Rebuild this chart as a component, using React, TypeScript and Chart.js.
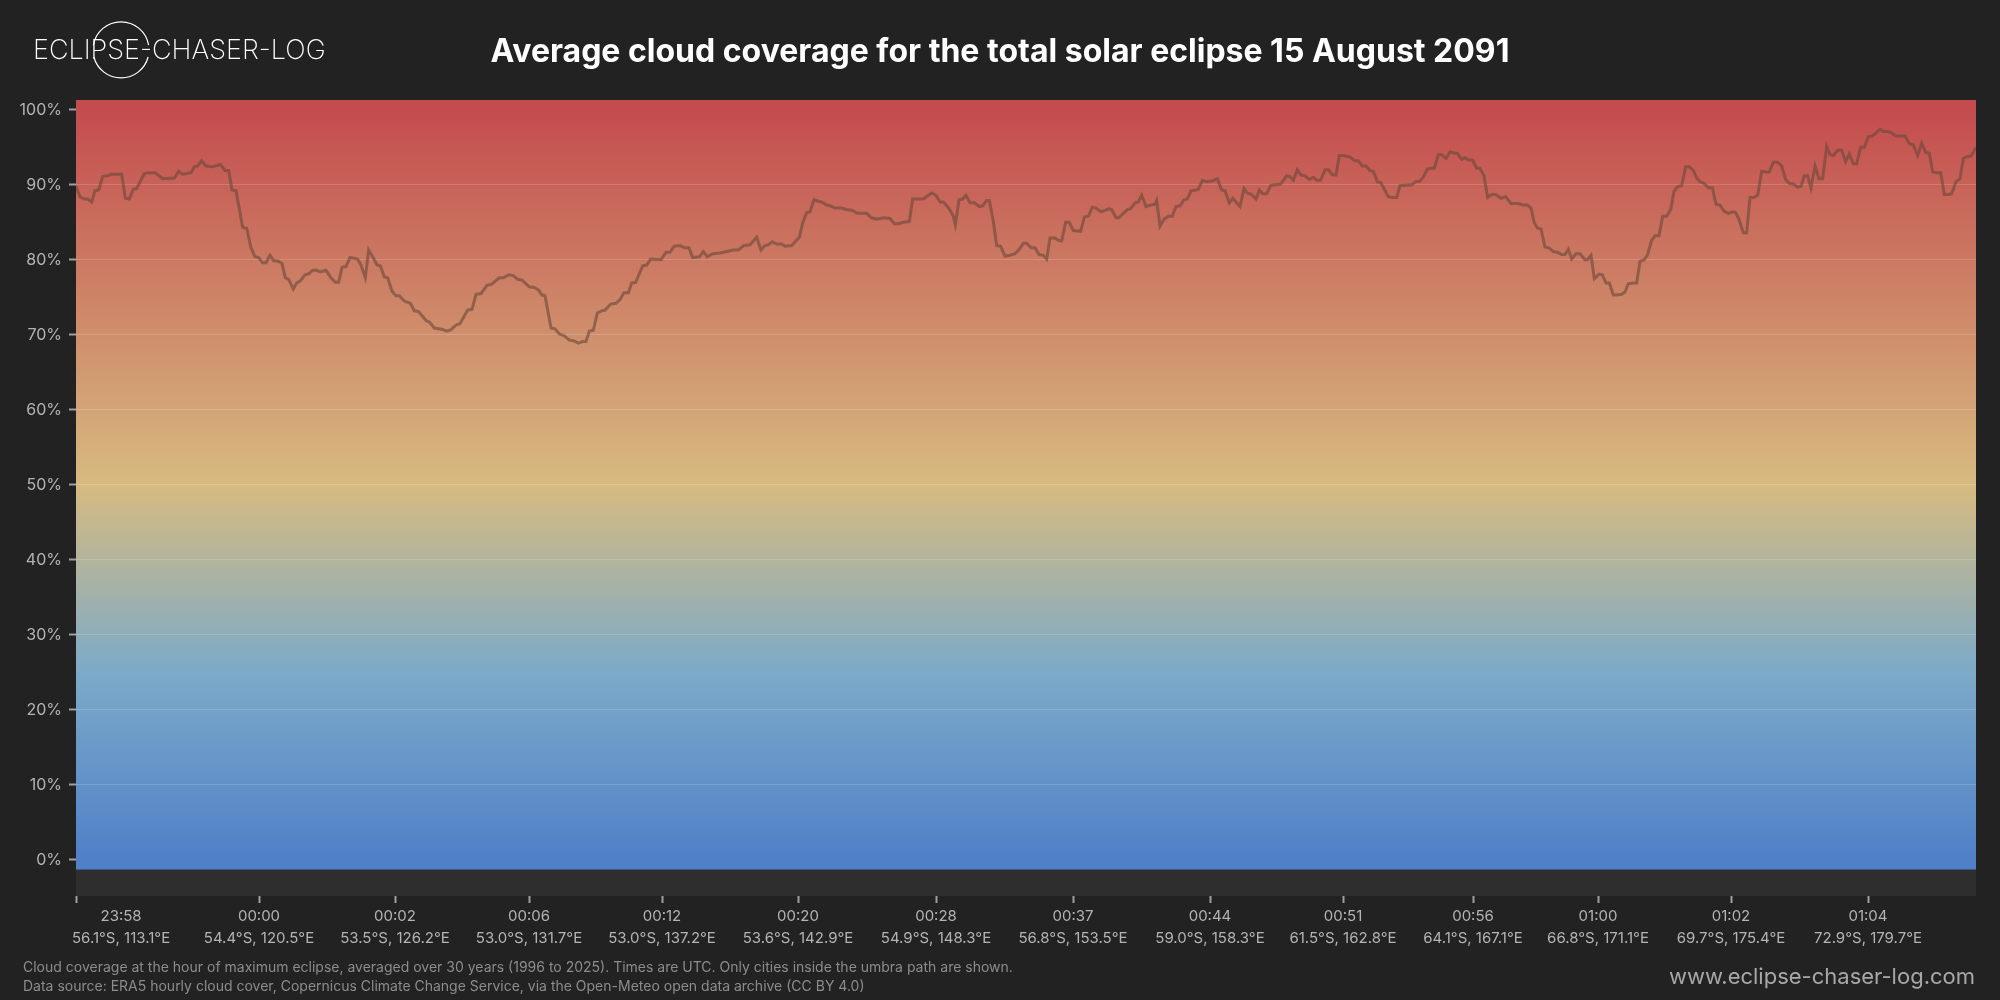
import React, { useEffect, useRef } from "react";
import { Chart, registerables } from "chart.js";

Chart.register(...registerables);

// Tick labels along the eclipse path (position in km along the path)
const tickKm = [0, 549, 957, 1359, 1758, 2166, 2580, 2991, 3402, 3801, 4191, 4566, 4965, 5376];
const tickTimes = ["23:58", "00:00", "00:02", "00:06", "00:12", "00:20", "00:28", "00:37", "00:44", "00:51", "00:56", "01:00", "01:02", "01:04"];
const tickPlaces = [
  "56.1°S, 113.1°E", "54.4°S, 120.5°E", "53.5°S, 126.2°E", "53.0°S, 131.7°E", "53.0°S, 137.2°E",
  "53.6°S, 142.9°E", "54.9°S, 148.3°E", "56.8°S, 153.5°E", "59.0°S, 158.3°E", "61.5°S, 162.8°E",
  "64.1°S, 167.1°E", "66.8°S, 171.1°E", "69.7°S, 175.4°E", "72.9°S, 179.7°E",
];
const yTicks = [0, 10, 20, 30, 40, 50, 60, 70, 80, 90, 100];

// Distance along the umbra path (km)
const pathKm = [
  0, 12, 25, 35, 47, 57, 68, 80, 95, 105,
  137, 148, 160, 172, 182, 205, 220, 237, 260, 295,
  308, 320, 345, 355, 365, 377, 390, 410, 433, 447,
  458, 468, 480, 500, 512, 525, 537, 548, 560, 570,
  582, 593, 607, 618, 628, 638, 652, 662, 673, 687,
  697, 710, 722, 733, 750, 765, 778, 788, 798, 810,
  822, 845, 855, 868, 878, 890, 903, 913, 925, 935,
  948, 960, 970, 985, 1003, 1015, 1028, 1050, 1060, 1075,
  1088, 1100, 1113, 1125, 1140, 1152, 1175, 1188, 1200, 1215,
  1233, 1245, 1270, 1283, 1298, 1312, 1325, 1338, 1360, 1375,
  1387, 1398, 1407, 1425, 1437, 1450,
  1464, 1480, 1494, 1507, 1520, 1530, 1540, 1552, 1564, 1577,
  1587, 1604, 1620, 1632, 1644, 1657, 1667, 1679, 1700, 1712,
  1724, 1755, 1770, 1782, 1794, 1812, 1827, 1839, 1850, 1870,
  1882, 1894, 1910, 1932, 1952, 1972, 1987, 2004, 2022, 2042,
  2055, 2067, 2077, 2089, 2102, 2117, 2127, 2147, 2170, 2180,
  2192, 2202, 2214, 2227, 2237, 2252, 2262, 2277, 2297, 2310,
  2327, 2344, 2372, 2387, 2402, 2422, 2442, 2455, 2467, 2482,
  2500, 2510, 2527, 2542, 2554, 2567, 2580, 2592, 2602, 2614,
  2624, 2632, 2638, 2649, 2660, 2670, 2682, 2695, 2710, 2720,
  2732, 2740, 2752, 2762, 2774, 2787, 2802, 2817, 2830, 2842,
  2852, 2865, 2877, 2889, 2902, 2912,
  2922, 2937, 2947, 2957, 2969, 2980, 2992, 3014, 3025, 3037,
  3049, 3060, 3075, 3087, 3097, 3107, 3120, 3129, 3142, 3154,
  3164, 3177, 3187, 3197, 3210, 3224, 3237, 3242, 3252, 3264,
  3277, 3289, 3300, 3312, 3324, 3334, 3345, 3359, 3367, 3379,
  3392, 3407, 3424, 3437, 3447, 3460, 3470, 3482, 3492, 3504,
  3514, 3527, 3540, 3550, 3560, 3572, 3584, 3597, 3614, 3632,
  3642, 3652, 3664, 3675, 3687, 3700, 3712, 3722, 3734, 3747,
  3757, 3770, 3780, 3790, 3804, 3822, 3837, 3847, 3859, 3870,
  3882, 3892, 3904, 3914, 3937, 3949, 3962, 3972, 3984, 4007,
  4019, 4032, 4042, 4054, 4064, 4075, 4087, 4097, 4110, 4122,
  4137, 4144, 4157, 4167, 4179, 4190, 4202, 4212, 4224, 4235,
  4247, 4260, 4274, 4289,
  4305, 4327, 4340, 4354, 4365, 4375, 4385, 4395, 4407, 4419,
  4432, 4444, 4457, 4467, 4477, 4487, 4500, 4512, 4527, 4534,
  4545, 4555, 4569, 4579, 4590, 4600, 4612, 4622, 4637, 4647,
  4657, 4672, 4682, 4692, 4704, 4714, 4727, 4737, 4749, 4760,
  4772, 4784, 4794, 4804, 4817, 4829, 4840, 4852, 4862, 4872,
  4884, 4897, 4909, 4920, 4932, 4944, 4957, 4969, 4979, 4989,
  5002, 5012, 5022, 5034, 5045, 5057, 5070, 5080, 5092, 5105,
  5117, 5129, 5140, 5152, 5165, 5175, 5185, 5195, 5205, 5217,
  5229, 5240, 5252, 5262, 5272, 5285, 5297, 5309, 5320, 5332,
  5342, 5354, 5365, 5377, 5389, 5402, 5412, 5422, 5437, 5447,
  5459, 5487, 5500, 5512, 5525, 5537, 5549, 5560, 5570, 5582,
  5594, 5605, 5617, 5627, 5640, 5652, 5662, 5675, 5685, 5700,
];

// Average cloud cover (%) at each position
const cloudCover = [
  89.8, 88.4, 88.1, 88.1, 87.7, 89.2, 89.3, 91.1, 91.2, 91.4,
  91.4, 88.2, 88.1, 89.4, 89.5, 91.5, 91.6, 91.6, 90.8, 90.9,
  91.8, 91.4, 91.6, 92.4, 92.5, 93.2, 92.5, 92.4, 92.7, 91.9,
  91.9, 89.3, 89.2, 84.3, 84.2, 81.6, 80.4, 80.3, 79.6, 79.6,
  80.6, 79.9, 79.8, 79.5, 77.6, 77.4, 76.1, 76.9, 77.2, 78.0,
  78.1, 78.6, 78.6, 78.4, 78.6, 77.6, 77.0, 77.0, 79.0, 79.1,
  80.3, 80.1, 79.3, 77.6, 81.3, 80.4, 79.3, 79.2, 77.7, 77.6,
  75.8, 75.2, 75.2, 74.5, 74.2, 73.2, 73.1, 71.9, 71.7, 70.9,
  70.8, 70.7, 70.5, 70.7, 71.3, 71.5, 73.3, 73.4, 75.4, 75.5,
  76.6, 76.7, 77.6, 77.6, 78.0, 77.9, 77.4, 77.3, 76.4, 76.3,
  76.0, 75.3, 75.2, 70.9, 70.8, 70.1,
  69.9, 69.3, 69.2, 68.9, 69.1, 69.1, 70.5, 70.6, 72.9, 73.2,
  73.3, 74.1, 74.2, 74.7, 75.6, 75.6, 76.9, 77.0, 79.2, 79.3,
  80.1, 80.0, 81.0, 81.0, 81.8, 81.9, 81.6, 81.6, 80.3, 80.4,
  81.1, 80.4, 80.8, 80.9, 81.1, 81.3, 81.3, 81.9, 82.0, 83.0,
  81.3, 81.9, 82.0, 82.4, 82.1, 82.1, 81.8, 81.9, 83.0, 84.9,
  86.3, 86.4, 88.0, 87.8, 87.7, 87.3, 87.2, 86.9, 86.9, 86.7,
  86.6, 86.2, 86.2, 85.6, 85.4, 85.6, 85.5, 84.8, 84.8, 85.0,
  85.1, 88.1, 88.1, 88.1, 88.5, 88.9, 88.6, 87.7, 87.7, 87.1,
  86.5, 85.8, 84.7, 88.0, 88.1, 88.6, 87.6, 87.6, 87.1, 87.2,
  87.9, 87.9, 85.1, 81.9, 81.8, 80.5, 80.6, 80.8, 81.4, 82.2,
  82.2, 81.6, 81.6, 80.7, 80.6, 80.1,
  82.9, 82.9, 82.6, 82.5, 85.0, 85.0, 83.9, 83.8, 85.7, 85.8,
  87.0, 86.9, 86.4, 86.6, 86.8, 86.7, 85.6, 85.6, 86.2, 86.7,
  86.8, 87.6, 87.7, 88.6, 87.1, 87.3, 87.4, 87.9, 84.5, 85.4,
  85.8, 85.8, 87.1, 87.2, 88.0, 88.1, 89.2, 89.3, 89.4, 90.6,
  90.4, 90.5, 90.8, 89.3, 89.2, 87.6, 88.2, 87.6, 87.1, 89.5,
  88.9, 88.7, 88.1, 89.3, 88.8, 88.8, 89.9, 90.0, 90.1, 91.2,
  91.1, 90.6, 92.0, 91.3, 91.2, 90.7, 91.0, 90.6, 90.6, 92.0,
  92.0, 91.3, 91.3, 93.9, 93.9, 93.7, 93.2, 93.2, 92.5, 92.5,
  91.9, 91.8, 90.4, 90.3, 88.4, 88.3, 88.3, 89.9, 89.9, 90.0,
  90.4, 90.5, 91.0, 92.1, 92.2, 92.2, 94.0, 94.0, 93.5, 94.4,
  94.2, 94.2, 93.4, 93.6, 93.3, 93.3, 92.2, 92.2, 91.2, 88.3,
  88.7, 88.7, 88.2, 88.4,
  87.5, 87.5, 87.3, 87.3, 86.9, 84.9, 84.2, 84.1, 81.7, 81.6,
  81.1, 81.0, 80.7, 80.7, 81.4, 80.1, 80.8, 80.8, 80.0, 80.0,
  80.6, 77.5, 78.1, 78.0, 76.9, 76.9, 75.3, 75.3, 75.4, 75.7,
  76.8, 76.9, 76.9, 79.8, 80.0, 80.6, 82.6, 83.2, 83.2, 85.8,
  85.8, 86.7, 89.1, 89.7, 89.9, 92.4, 92.4, 91.9, 90.9, 90.4,
  90.2, 89.6, 89.6, 87.4, 87.3, 86.5, 86.2, 86.4, 86.3, 85.4,
  83.6, 83.6, 88.3, 88.3, 88.6, 91.8, 91.7, 91.7, 93.0, 93.0,
  92.5, 90.7, 90.2, 90.1, 89.7, 89.8, 91.2, 91.2, 89.6, 92.5,
  90.8, 90.8, 95.1, 94.0, 93.9, 94.6, 94.6, 93.1, 94.1, 92.8,
  92.8, 95.0, 95.0, 96.4, 96.5, 97.0, 97.4, 97.1, 97.1, 96.9,
  96.5, 96.5, 95.5, 95.3, 93.9, 95.5, 94.3, 94.2, 91.7, 91.6,
  91.6, 88.7, 88.7, 88.8, 90.4, 90.8, 93.5, 93.8, 93.8, 95.0,
];

const Y_MIN = -4.8;
const Y_MAX = 101.3;
const BAND_TOP = -1.3;
const X_MAX = 5700;
const X_FONT = { family: "Inter", size: 15, lineHeight: 1.45 };

const backgroundPlugin = {
  id: "cloudBackground",
  beforeDraw(chart: any) {
    const { ctx, chartArea: a, scales } = chart;
    const y = scales.y;
    const p100 = y.getPixelForValue(100);
    const p0 = y.getPixelForValue(0);
    const band = y.getPixelForValue(BAND_TOP);
    const g = ctx.createLinearGradient(0, p100, 0, p0);
    g.addColorStop(0, "#c44c4e");
    g.addColorStop(0.5, "#d7bb80");
    g.addColorStop(0.75, "#7caac8");
    g.addColorStop(1, "#5080c8");
    ctx.save();
    ctx.fillStyle = g;
    ctx.fillRect(a.left, a.top, a.right - a.left, band - a.top);
    ctx.fillStyle = "#2e2e2e";
    ctx.fillRect(a.left, band, a.right - a.left, a.bottom - band);

    // keep the first x label inside the chart: start its block near its tick
    const xs = scales.x;
    const items = xs.getLabelItems(a);
    if (items && items.length) {
      const first = items[0];
      ctx.font = `${X_FONT.size}px ${X_FONT.family}`;
      const lines: string[] = Array.isArray(first.label) ? first.label : [String(first.label)];
      const w = Math.max(...lines.map((l) => ctx.measureText(l).width));
      const tickPx = xs.getPixelForValue(tickKm[0]);
      first.options.translation[0] = tickPx - 4 + w / 2;
    }
    ctx.restore();
  },
};

export default function App() {
  const ref = useRef<HTMLCanvasElement>(null);

  useEffect(() => {
    if (!ref.current) return;
    const points = pathKm.map((x, i) => ({ x, y: cloudCover[i] }));
    const chart = new Chart(ref.current, {
      type: "line",
      data: {
        datasets: [
          {
            data: points,
            borderColor: "rgba(108, 72, 58, 0.62)",
            borderWidth: 3,
            pointRadius: 0,
            tension: 0,
            fill: false,
          },
        ],
      },
      options: {
        animation: false,
        responsive: false,
        devicePixelRatio: 1,
        layout: { padding: { top: 100, right: 24, left: 0, bottom: 44 } },
        plugins: { legend: { display: false }, tooltip: { enabled: false }, title: { display: false } },
        scales: {
          x: {
            type: "linear",
            min: 0,
            max: X_MAX,
            afterFit: (s: any) => { s.height = 60; },
            afterBuildTicks: (s: any) => { s.ticks = tickKm.map((v) => ({ value: v })); },
            border: { display: false },
            grid: { drawOnChartArea: false, drawTicks: true, tickLength: 7, tickWidth: 2, tickColor: "#a0a0a0", color: "#a0a0a0" },
            ticks: {
              autoSkip: false,
              maxRotation: 0,
              padding: 3,
              color: "#b4b4b4",
              font: X_FONT,
              callback: (_v: any, i: number) => [tickTimes[i], tickPlaces[i]],
            },
          },
          y: {
            min: Y_MIN,
            max: Y_MAX,
            afterFit: (s: any) => { s.width = 76; },
            afterBuildTicks: (s: any) => { s.ticks = yTicks.map((v) => ({ value: v })); },
            border: { display: false },
            grid: {
              color: (c: any) => (c.tick && (c.tick.value === 0 || c.tick.value === 100) ? "rgba(0,0,0,0)" : "rgba(255,255,255,0.16)"),
              lineWidth: 1,
              tickLength: 7,
              tickWidth: 2,
              tickColor: "#a0a0a0",
            },
            ticks: {
              padding: 7,
              color: "#b4b4b4",
              font: { family: "Inter", size: 16 },
              callback: (v: any) => `${v}%`,
            },
          },
        },
      },
      plugins: [backgroundPlugin],
    });
    return () => chart.destroy();
  }, []);

  return (
    <div style={{ position: "absolute", left: 0, top: 0, width: 2000, height: 1000, background: "#222222", overflow: "hidden", fontFamily: "Inter, sans-serif" }}>
      <canvas ref={ref} width={2000} height={1000} style={{ position: "absolute", left: 0, top: 0, width: 2000, height: 1000 }} />
      <svg width={60} height={62} style={{ position: "absolute", left: 91, top: 19 }}>
        <path d="M2.4 26.1 A28 28 0 0 1 57.6 26.1" fill="none" stroke="#ffffff" strokeWidth={1.2} />
        <path d="M2.9 38 A28 28 0 0 0 57.1 38" fill="none" stroke="#ffffff" strokeWidth={1.2} />
      </svg>
      <div style={{ position: "absolute", left: 33, top: 30, height: 40, lineHeight: "40px", fontSize: 27, fontWeight: 200, color: "#ffffff", whiteSpace: "nowrap" }}>
        ECLIPSE-CHASER-LOG
      </div>
      <div style={{ position: "absolute", left: 0, top: 30, width: 2000, height: 42, lineHeight: "42px", textAlign: "center", fontSize: 32, fontWeight: 700, color: "#ffffff", whiteSpace: "nowrap" }}>
        Average cloud coverage for the total solar eclipse 15 August 2091
      </div>
      <div style={{ position: "absolute", left: 23, top: 957, height: 20, lineHeight: "20px", fontSize: 14, color: "#8c8c8c", whiteSpace: "nowrap" }}>
        Cloud coverage at the hour of maximum eclipse, averaged over 30 years (1996 to 2025). Times are UTC. Only cities inside the umbra path are shown.
      </div>
      <div style={{ position: "absolute", left: 23, top: 976, height: 20, lineHeight: "20px", fontSize: 14, color: "#8c8c8c", whiteSpace: "nowrap" }}>
        Data source: ERA5 hourly cloud cover, Copernicus Climate Change Service, via the Open-Meteo open data archive (CC BY 4.0)
      </div>
      <div style={{ position: "absolute", right: 25, top: 961, height: 30, lineHeight: "30px", fontSize: 22, color: "#a8a8a8", whiteSpace: "nowrap" }}>
        www.eclipse-chaser-log.com
      </div>
    </div>
  );
}
